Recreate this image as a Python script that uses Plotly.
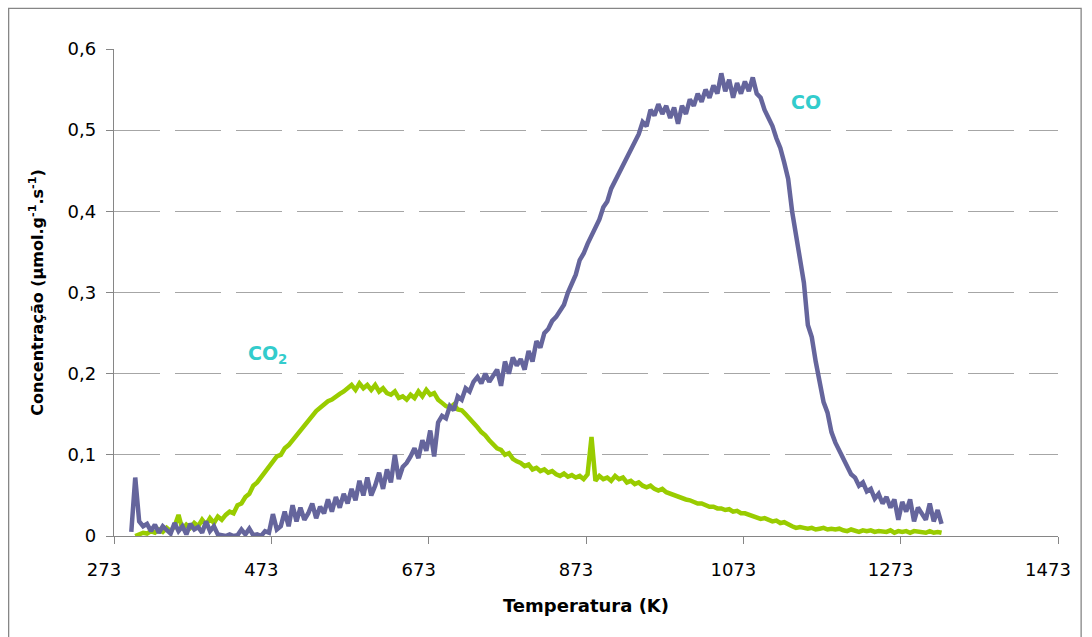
import numpy as np
import plotly.graph_objects as go

# ---------------- data ----------------
co_start = 295   # K, first CO sample
co2_start = 300  # K, first CO2 sample
step = 5         # K between samples

co_values = [
    0.005, 0.072, 0.018, 0.012, 0.015, 0.006, 0.014, 0.004, 0.012, 0.008,
    0.003, 0.016, 0.006, 0.012, 0.002, 0.015, 0.008, 0.011, 0.004, 0.018,
    0.006, 0.012, 0.002, 0.001, 0.000, 0.002, 0.000, 0.001, 0.008, 0.002,
    0.009, 0.001, 0.002, 0.000, 0.006, 0.004, 0.027, 0.008, 0.012, 0.030,
    0.012, 0.038, 0.018, 0.035, 0.020, 0.028, 0.040, 0.022, 0.036, 0.028,
    0.045, 0.030, 0.048, 0.035, 0.052, 0.040, 0.058, 0.044, 0.068, 0.050,
    0.072, 0.050, 0.062, 0.078, 0.058, 0.082, 0.066, 0.100, 0.070, 0.085,
    0.090, 0.098, 0.108, 0.096, 0.118, 0.105, 0.130, 0.098, 0.140, 0.148,
    0.145, 0.160, 0.155, 0.172, 0.168, 0.182, 0.178, 0.190, 0.196, 0.188,
    0.200, 0.190, 0.198, 0.205, 0.185, 0.215, 0.200, 0.220, 0.210, 0.218,
    0.205, 0.228, 0.215, 0.240, 0.232, 0.250, 0.255, 0.265, 0.270, 0.278,
    0.285, 0.300, 0.310, 0.322, 0.340, 0.348, 0.360, 0.370, 0.380, 0.390,
    0.405, 0.412, 0.428, 0.438, 0.445, 0.458, 0.468, 0.475, 0.488, 0.495,
    0.510, 0.505, 0.525, 0.518, 0.532, 0.520, 0.530, 0.515, 0.528, 0.508,
    0.530, 0.520, 0.538, 0.530, 0.545, 0.535, 0.550, 0.540, 0.555, 0.545,
    0.570, 0.548, 0.562, 0.540, 0.558, 0.545, 0.560, 0.548, 0.565, 0.545,
    0.540, 0.525, 0.515, 0.505, 0.490, 0.478, 0.460, 0.440, 0.400, 0.372,
    0.345, 0.312, 0.260, 0.245, 0.215, 0.186, 0.165, 0.152, 0.128, 0.115,
    0.105, 0.095, 0.088, 0.076, 0.072, 0.062, 0.066, 0.055, 0.058, 0.046,
    0.052, 0.040, 0.048, 0.035, 0.045, 0.020, 0.042, 0.030, 0.045, 0.018,
    0.035, 0.028, 0.020, 0.040, 0.018, 0.032, 0.015,
]

co2_values = [
    0.000, 0.002, 0.004, 0.003, 0.006, 0.004, 0.008, 0.005, 0.010, 0.006,
    0.012, 0.026, 0.008, 0.014, 0.010, 0.016, 0.012, 0.020, 0.014, 0.022,
    0.016, 0.024, 0.020, 0.026, 0.030, 0.028, 0.038, 0.040, 0.048, 0.052,
    0.062, 0.066, 0.072, 0.080, 0.086, 0.090, 0.098, 0.100, 0.108, 0.112,
    0.118, 0.124, 0.132, 0.136, 0.142, 0.150, 0.154, 0.158, 0.162, 0.166,
    0.168, 0.172, 0.175, 0.178, 0.182, 0.186, 0.180, 0.188, 0.182, 0.186,
    0.180, 0.186, 0.178, 0.182, 0.176, 0.174, 0.178, 0.170, 0.172, 0.168,
    0.174, 0.170, 0.178, 0.172, 0.180, 0.174, 0.176, 0.168, 0.164, 0.160,
    0.158, 0.162, 0.156, 0.155, 0.150, 0.145, 0.140, 0.134, 0.128, 0.124,
    0.118, 0.112, 0.108, 0.106, 0.100, 0.102, 0.095, 0.092, 0.090, 0.086,
    0.088, 0.082, 0.084, 0.080, 0.082, 0.078, 0.080, 0.076, 0.074, 0.077,
    0.073, 0.075, 0.072, 0.074, 0.070, 0.076, 0.122, 0.068, 0.074, 0.070,
    0.072, 0.068, 0.074, 0.070, 0.072, 0.066, 0.068, 0.064, 0.066, 0.062,
    0.060, 0.062, 0.058, 0.056, 0.058, 0.054, 0.052, 0.050, 0.048, 0.046,
    0.045, 0.044, 0.042, 0.040, 0.040, 0.038, 0.036, 0.036, 0.034, 0.034,
    0.032, 0.033, 0.030, 0.031, 0.028, 0.028, 0.026, 0.024, 0.022, 0.021,
    0.022, 0.020, 0.018, 0.019, 0.016, 0.017, 0.014, 0.012, 0.010, 0.011,
    0.010, 0.009, 0.010, 0.008, 0.009, 0.010, 0.008, 0.009, 0.008, 0.009,
    0.007, 0.006, 0.008, 0.007, 0.005, 0.007, 0.006, 0.007, 0.005, 0.006,
    0.006, 0.005, 0.007, 0.004, 0.006, 0.005, 0.006, 0.004, 0.006, 0.005,
    0.005, 0.004, 0.006, 0.004, 0.005, 0.004,
]

co_temps = co_start + step * np.arange(len(co_values))
co2_temps = co2_start + step * np.arange(len(co2_values))

x_ticks = [273, 473, 673, 873, 1073, 1273, 1473]
y_ticks = [0, 0.1, 0.2, 0.3, 0.4, 0.5, 0.6]
y_tick_labels = ["0", "0,1", "0,2", "0,3", "0,4", "0,5", "0,6"]

CO_COLOR = "#65659C"
CO2_COLOR = "#99CC00"
LABEL_COLOR = "#33CCCC"
GRID = "#A6A6A6"
AXIS = "#868686"

fig = go.Figure()
fig.add_trace(go.Scatter(x=co2_temps, y=co2_values, mode="lines", name="CO2",
                         line=dict(color=CO2_COLOR, width=4.5)))
fig.add_trace(go.Scatter(x=co_temps, y=co_values, mode="lines", name="CO",
                         line=dict(color=CO_COLOR, width=4.5)))

fig.add_annotation(x=1153, y=0.535, text="<b>CO</b>", showarrow=False,
                   font=dict(family="DejaVu Sans", size=19, color=LABEL_COLOR))
fig.add_annotation(x=468, y=0.224, text="<b>CO<sub>2</sub></b>", showarrow=False,
                   font=dict(family="DejaVu Sans", size=19, color=LABEL_COLOR))

# outer chart border
fig.add_shape(type="rect", xref="paper", yref="paper",
              x0=-0.1116, x1=1.0245, y0=-0.21, y1=1.0836,
              line=dict(color=AXIS, width=1.3), layer="below")

fig.update_layout(
    width=1092, height=637,
    margin=dict(l=114, r=34, t=49, b=101),
    paper_bgcolor="white", plot_bgcolor="white",
    showlegend=False,
    font=dict(family="DejaVu Sans", color="black"),
)
fig.update_xaxes(
    range=[273, 1473], tickvals=x_ticks, ticktext=[str(v) for v in x_ticks],
    showgrid=False, zeroline=False,
    showline=True, linecolor=AXIS, linewidth=1.3,
    ticks="outside", ticklen=7, tickcolor=AXIS, tickwidth=1.3,
    ticklabelstandoff=10, ticklabelshift=-10,
    tickfont=dict(size=18, family="DejaVu Sans"),
    title=dict(text="<b>Temperatura (K)</b>", font=dict(size=18, family="DejaVu Sans"), standoff=20),
)
fig.update_yaxes(
    range=[0, 0.6], tickvals=y_ticks, ticktext=y_tick_labels,
    showgrid=True, gridcolor=GRID, gridwidth=1.2, griddash="46px,15px",
    zeroline=False,
    showline=True, linecolor=AXIS, linewidth=1.3,
    ticks="outside", ticklen=7, tickcolor=AXIS, tickwidth=1.3,
    ticklabelstandoff=6,
    tickfont=dict(size=18, family="DejaVu Sans"),
    title=dict(text="<b>Concentração (μmol.g<sup>-1</sup>.s<sup>-1</sup>)</b>",
               font=dict(size=16, family="DejaVu Sans"), standoff=20),
)

fig.write_html("out.html", config={"displayModeBar": False},
               post_script="document.body.style.margin='0';")
